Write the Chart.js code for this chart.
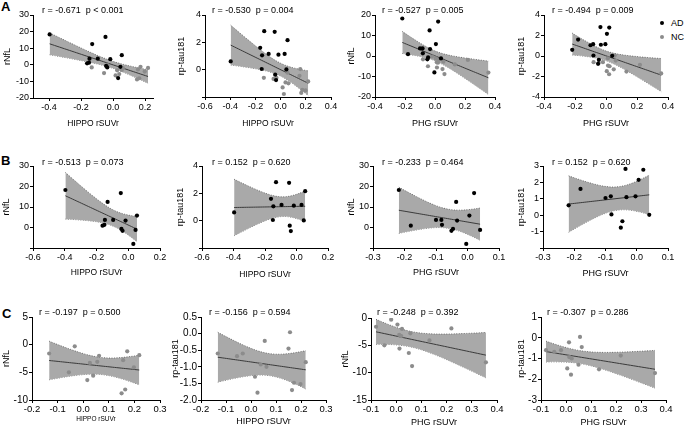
<!DOCTYPE html>
<html>
<head>
<meta charset="utf-8">
<script src="https://cdn.jsdelivr.net/npm/chart.js@4.4.1/dist/chart.umd.min.js"></script>
<style>
  body { margin: 0; background: #fff; width: 685px; height: 430px; position: relative; overflow: hidden;
         font-family: Arial, "Liberation Sans", sans-serif; color: #000; }
  canvas { position: absolute; }
  .stat { position: absolute; font-size: 9px; line-height: 10px; white-space: pre; color: #000; }
  .letter { position: absolute; font-size: 13px; font-weight: bold; line-height: 13px; color: #000; }
  .leg { position: absolute; font-size: 9px; line-height: 10px; color: #000; }
  .dot { position: absolute; width: 4px; height: 4px; border-radius: 50%; }
</style>
</head>
<body>
<div class="letter" style="left:1px;top:0px">A</div>
<div class="letter" style="left:1px;top:154px">B</div>
<div class="letter" style="left:2px;top:307px">C</div>
<div class="dot" style="left:660px;top:21px;background:#000"></div>
<div class="leg" style="left:671px;top:18px">AD</div>
<div class="dot" style="left:660px;top:35px;background:#8c8c8c"></div>
<div class="leg" style="left:671px;top:32px">NC</div>
<script>
// AD-betegek (n = 13)
const adHippo = [-0.396, -0.162, -0.150, -0.147, -0.130, -0.095, -0.047, -0.043, -0.036, -0.017, 0.032, 0.046, 0.055];
const adPhg   = [-0.218, -0.180, -0.081, -0.100, -0.036, -0.083, 0.021, -0.046, -0.051, -0.033, -0.004, 0.040, 0.006];
const adNfl   = [18.3, 0.9, 1.3, 3.7, 12.5, 3.7, 16.8, -0.7, -1.6, 3.4, -8.0, -1.2, 5.8];
const adPtau  = [0.60, 1.60, 0.05, 1.05, 2.82, 1.15, 2.77, -0.37, -0.76, 1.10, 1.15, 0.02, 2.16];

// NC kontrollok (n = 14)
const ncHippo = [-0.133, -0.033, -0.056, 0.016, 0.026, 0.039, 0.055, 0.062, 0.156, 0.172, 0.150, 0.164, 0.198, 0.219];
const ncPhg   = [-0.080, -0.020, -0.047, 0.050, 0.020, 0.013, 0.012, 0.023, 0.056, 0.005, 0.063, 0.356, 0.132, 0.219];
const ncNfl   = [-1.6, -0.3, -5.0, -6.4, -3.3, -5.6, -3.1, -2.0, -2.8, -1.2, -8.8, -8.1, -4.1, -1.9];
const ncPtau  = [-0.60, -0.60, -0.68, -1.30, -1.78, -0.93, -0.22, -1.00, 0.04, -1.48, -0.45, -1.70, -1.52, -0.86];

// Statisztika feliratok
const statText = [
  'r = -0.671  p < 0.001', 'r = -0.530  p = 0.004', 'r = -0.527  p = 0.005', 'r = -0.494  p = 0.009',
  'r = -0.513  p = 0.073', 'r = 0.152  p = 0.620', 'r = -0.233  p = 0.464', 'r = 0.152  p = 0.620',
  'r = -0.197  p = 0.500', 'r = -0.156  p = 0.594', 'r = -0.248  p = 0.392', 'r = -0.307  p = 0.286'
];

// Tengely osztások
const xTicksA1 = [-0.4, -0.2, 0, 0.2];
const xTicksA2 = [-0.6, -0.4, -0.2, 0, 0.2, 0.4];
const xTicksPhgA = [-0.4, -0.2, 0, 0.2, 0.4];
const xTicksHippoB = [-0.6, -0.4, -0.2, 0, 0.2];
const xTicksPhgB = [-0.3, -0.2, -0.1, 0, 0.1];
const xTicksHippoC = [-0.2, -0.1, 0, 0.1, 0.2, 0.3];
const xTicksPhgC = [-0.1, 0, 0.1, 0.2, 0.3, 0.4];
const yTicksNflA1 = [-20, -10, 0, 10, 20, 30];
const yTicksNflA3 = [-20, -10, 0, 10, 20];
const yTicksPtauA2 = [-2, 0, 2, 4];
const yTicksPtauA4 = [-4, -2, 0, 2, 4];
const yTicksNflB = [-10, 0, 10, 20, 30];
const yTicksPtauB4 = [-2, -1, 0, 1, 2, 3];
const yTicksNflC1 = [-10, -5, 0, 5];
const yTicksPtauC2 = [-2, -1.5, -1, -0.5, 0, 0.5];
const yTicksNflC3 = [-15, -10, -5, 0];
const yTicksPtauC4 = [-3, -2, -1, 0, 1];

const groups = {
  ad: { hippo: adHippo, phg: adPhg, nfl: adNfl, ptau: adPtau, color: '#000000' },
  nc: { hippo: ncHippo, phg: ncPhg, nfl: ncNfl, ptau: ncPtau, color: '#8c8c8c' }
};

// t kritikus értékek (95%, df = n - 2)
const tCrit = { 11: 2.201, 12: 2.179, 25: 2.060 };

// Panelek elrendezése: box = [bal, felső, jobb, alsó] a rajzterületre
const panels = [
  { g: ['ad', 'nc'], x: 'hippo', y: 'nfl',  box: [33, 15, 153, 98],  xr: [-0.5, 0.25], yr: [-20, 30], xt: xTicksA1, yt: yTicksNflA1, st: [42, 9.5], yOff: 25.5, xOff: 25.5, xFont: 8.5 },
  { g: ['ad', 'nc'], x: 'hippo', y: 'ptau', box: [205, 15, 331, 97], xr: [-0.6, 0.4], yr: [-2, 4], xt: xTicksA2, yt: yTicksPtauA2, hide: -2, st: [212, 9.5], yOff: 23, xOff: 26.5, xFont: 8.5 },
  { g: ['ad', 'nc'], x: 'phg', y: 'nfl',    box: [375, 15, 495, 97], xr: [-0.4, 0.4], yr: [-20, 20], xt: xTicksPhgA, yt: yTicksNflA3, st: [382, 9.5], yOff: 23, xOff: 27, xFont: 9 },
  { g: ['ad', 'nc'], x: 'phg', y: 'ptau',   box: [544, 15, 668, 97], xr: [-0.4, 0.4], yr: [-4, 4], xt: xTicksPhgA, yt: yTicksPtauA4, st: [552, 9.5], yOff: 22.5, xOff: 27, xFont: 9 },
  { g: ['ad'], x: 'hippo', y: 'nfl',  box: [33, 166, 160, 248],  xr: [-0.6, 0.2], yr: [-10, 30], xt: xTicksHippoB, yt: yTicksNflB, hide: -10, st: [42, 161.5], yOff: 26, xOff: 25, xFont: 8.5 },
  { g: ['ad'], x: 'hippo', y: 'ptau', box: [202, 166, 328, 248], xr: [-0.6, 0.2], yr: [-2, 4], xt: xTicksHippoB, yt: yTicksPtauA2, hide: -2, st: [212, 161.5], yOff: 21, xOff: 26.5, xFont: 8.5 },
  { g: ['ad'], x: 'phg', y: 'nfl',    box: [373, 166, 499, 248], xr: [-0.3, 0.1], yr: [-10, 30], xt: xTicksPhgB, yt: yTicksNflB, hide: -10, st: [382, 161.5], yOff: 21, xOff: 24.5, xFont: 9 },
  { g: ['ad'], x: 'phg', y: 'ptau',   box: [543, 166, 668, 248], xr: [-0.3, 0.1], yr: [-2, 3], xt: xTicksPhgB, yt: yTicksPtauB4, hide: -2, st: [552, 161.5], yOff: 21, xOff: 26, xFont: 9 },
  { g: ['nc'], x: 'hippo', y: 'nfl',  box: [32, 317, 160, 400],  xr: [-0.2, 0.3], yr: [-10, 5], xt: xTicksHippoC, yt: yTicksNflC1, st: [39, 312], yOff: 25, xOff: 19.5, xFont: 6.5, tFont: 10 },
  { g: ['nc'], x: 'hippo', y: 'ptau', box: [201, 317, 326, 400], xr: [-0.2, 0.3], yr: [-2, 0.5], xt: xTicksHippoC, yt: yTicksPtauC2, yDec: 1, st: [209, 312], yOff: 25.5, xOff: 21.5, xFont: 9, tFont: 10 },
  { g: ['nc'], x: 'phg', y: 'nfl',    box: [371, 318, 497, 400], xr: [-0.1, 0.4], yr: [-15, 0], xt: xTicksPhgC, yt: yTicksNflC3, st: [377, 312], yOff: 25, xOff: 23, xFont: 9, tFont: 10 },
  { g: ['nc'], x: 'phg', y: 'ptau',   box: [541, 317, 666, 400], xr: [-0.1, 0.4], yr: [-3, 1], xt: xTicksPhgC, yt: yTicksPtauC4, st: [547, 312], yOff: 19.5, xOff: 23, xFont: 9, tFont: 10 }
];

Chart.defaults.font.family = 'Arial, "Liberation Sans", sans-serif';
Chart.defaults.color = '#000';

// Lineáris regresszió 95%-os konfidencia sávval
function regression(xs, ys) {
  const n = xs.length;
  const mx = xs.reduce((s, v) => s + v, 0) / n;
  const my = ys.reduce((s, v) => s + v, 0) / n;
  let sxx = 0, sxy = 0;
  xs.forEach((x, i) => { sxx += (x - mx) ** 2; sxy += (x - mx) * (ys[i] - my); });
  const b = sxy / sxx, a = my - b * mx;
  let sse = 0;
  xs.forEach((x, i) => { sse += (ys[i] - a - b * x) ** 2; });
  const s = Math.sqrt(sse / (n - 2));
  const t = tCrit[n - 2];
  const x0 = Math.min(...xs), x1 = Math.max(...xs);
  const line = [], upper = [], lower = [];
  for (let i = 0; i <= 40; i++) {
    const x = x0 + (x1 - x0) * i / 40;
    const yh = a + b * x;
    const h = t * s * Math.sqrt(1 / n + (x - mx) ** 2 / sxx);
    line.push({ x, y: yh });
    upper.push({ x, y: yh + h });
    lower.push({ x, y: yh - h });
  }
  return { line, upper, lower };
}

const YW = 34, XH = 38, PT = 8, PR = 14;

panels.forEach((p, idx) => {
  const [L, T, R, B] = p.box;
  const canvas = document.createElement('canvas');
  const w = YW + (R - L) + PR, h = PT + (B - T) + XH;
  canvas.width = w; canvas.height = h;
  canvas.style.left = (L - YW) + 'px';
  canvas.style.top = (T - PT) + 'px';
  canvas.style.width = w + 'px';
  canvas.style.height = h + 'px';
  document.body.appendChild(canvas);

  const stat = document.createElement('div');
  stat.className = 'stat';
  stat.style.left = p.st[0] + 'px';
  stat.style.top = (p.st[1] - 5) + 'px';
  stat.textContent = statText[idx];
  document.body.appendChild(stat);

  // Pontok összegyűjtése
  let allX = [], allY = [];
  const pointSets = p.g.map((key, k) => {
    const grp = groups[key];
    const xs = grp[p.x], ys = grp[p.y];
    allX = allX.concat(xs); allY = allY.concat(ys);
    return {
      type: 'scatter',
      data: xs.map((x, i) => ({ x, y: ys[i] })),
      backgroundColor: grp.color,
      borderWidth: 0,
      pointRadius: 2.1,
      order: k
    };
  });
  const fit = regression(allX, allY);

  const datasets = pointSets.concat([
    { type: 'line', data: fit.line, borderColor: '#3a3a3a', borderWidth: 1, pointRadius: 0, tension: 0, fill: false, order: 5 },
    { type: 'line', data: fit.upper, borderColor: '#555', borderWidth: 0.8, borderDash: [1, 1.5],
      backgroundColor: '#a9a9a9', pointRadius: 0, tension: 0, fill: '+1', order: 6 },
    { type: 'line', data: fit.lower, borderColor: '#555', borderWidth: 0.8, borderDash: [1, 1.5],
      pointRadius: 0, tension: 0, fill: false, order: 7 }
  ]);

  const lh = v => v * 1.2 / 2;
  const xTitle = p.x === 'hippo' ? 'HIPPO rSUVr' : 'PHG rSUVr';
  const yTitle = p.y === 'nfl' ? 'rNfL' : 'rp-tau181';
  const tf = p.tFont || 9;

  new Chart(canvas, {
    type: 'scatter',
    data: { datasets },
    options: {
      responsive: false,
      animation: false,
      events: [],
      layout: { padding: { top: PT, right: PR, left: 0, bottom: 0 } },
      plugins: { legend: { display: false }, tooltip: { enabled: false } },
      scales: {
        x: {
          type: 'linear', min: p.xr[0], max: p.xr[1],
          afterBuildTicks: s => { s.ticks = p.xt.map(v => ({ value: v })); },
          afterFit: s => { s.height = XH; },
          grid: { drawOnChartArea: false, drawTicks: true, tickLength: 3, color: '#000', lineWidth: 1 },
          border: { display: true, color: '#000', width: 1 },
          ticks: { font: { size: tf === 10 ? 9.5 : 9 }, color: '#000', padding: 1, maxRotation: 0, autoSkip: false,
                   callback: v => v.toFixed(1) },
          title: { display: true, text: xTitle, color: '#000', font: { size: p.xFont },
                   padding: { top: 0, bottom: XH - p.xOff - lh(p.xFont) } }
        },
        y: {
          type: 'linear', min: p.yr[0], max: p.yr[1],
          afterBuildTicks: s => { s.ticks = p.yt.map(v => ({ value: v })); },
          afterFit: s => { s.width = YW; },
          grid: { drawOnChartArea: false, drawTicks: true, tickLength: 3, color: '#000', lineWidth: 1 },
          border: { display: true, color: '#000', width: 1 },
          ticks: { font: { size: tf }, color: '#000', padding: 1, autoSkip: false,
                   callback: v => (v === p.hide ? '' : v.toFixed(p.yDec || 0)) },
          title: { display: true, text: yTitle, color: '#000', font: { size: 9 },
                   padding: { top: YW - p.yOff - lh(9), bottom: 0 } }
        }
      }
    }
  });
});
</script>
</body>
</html>
